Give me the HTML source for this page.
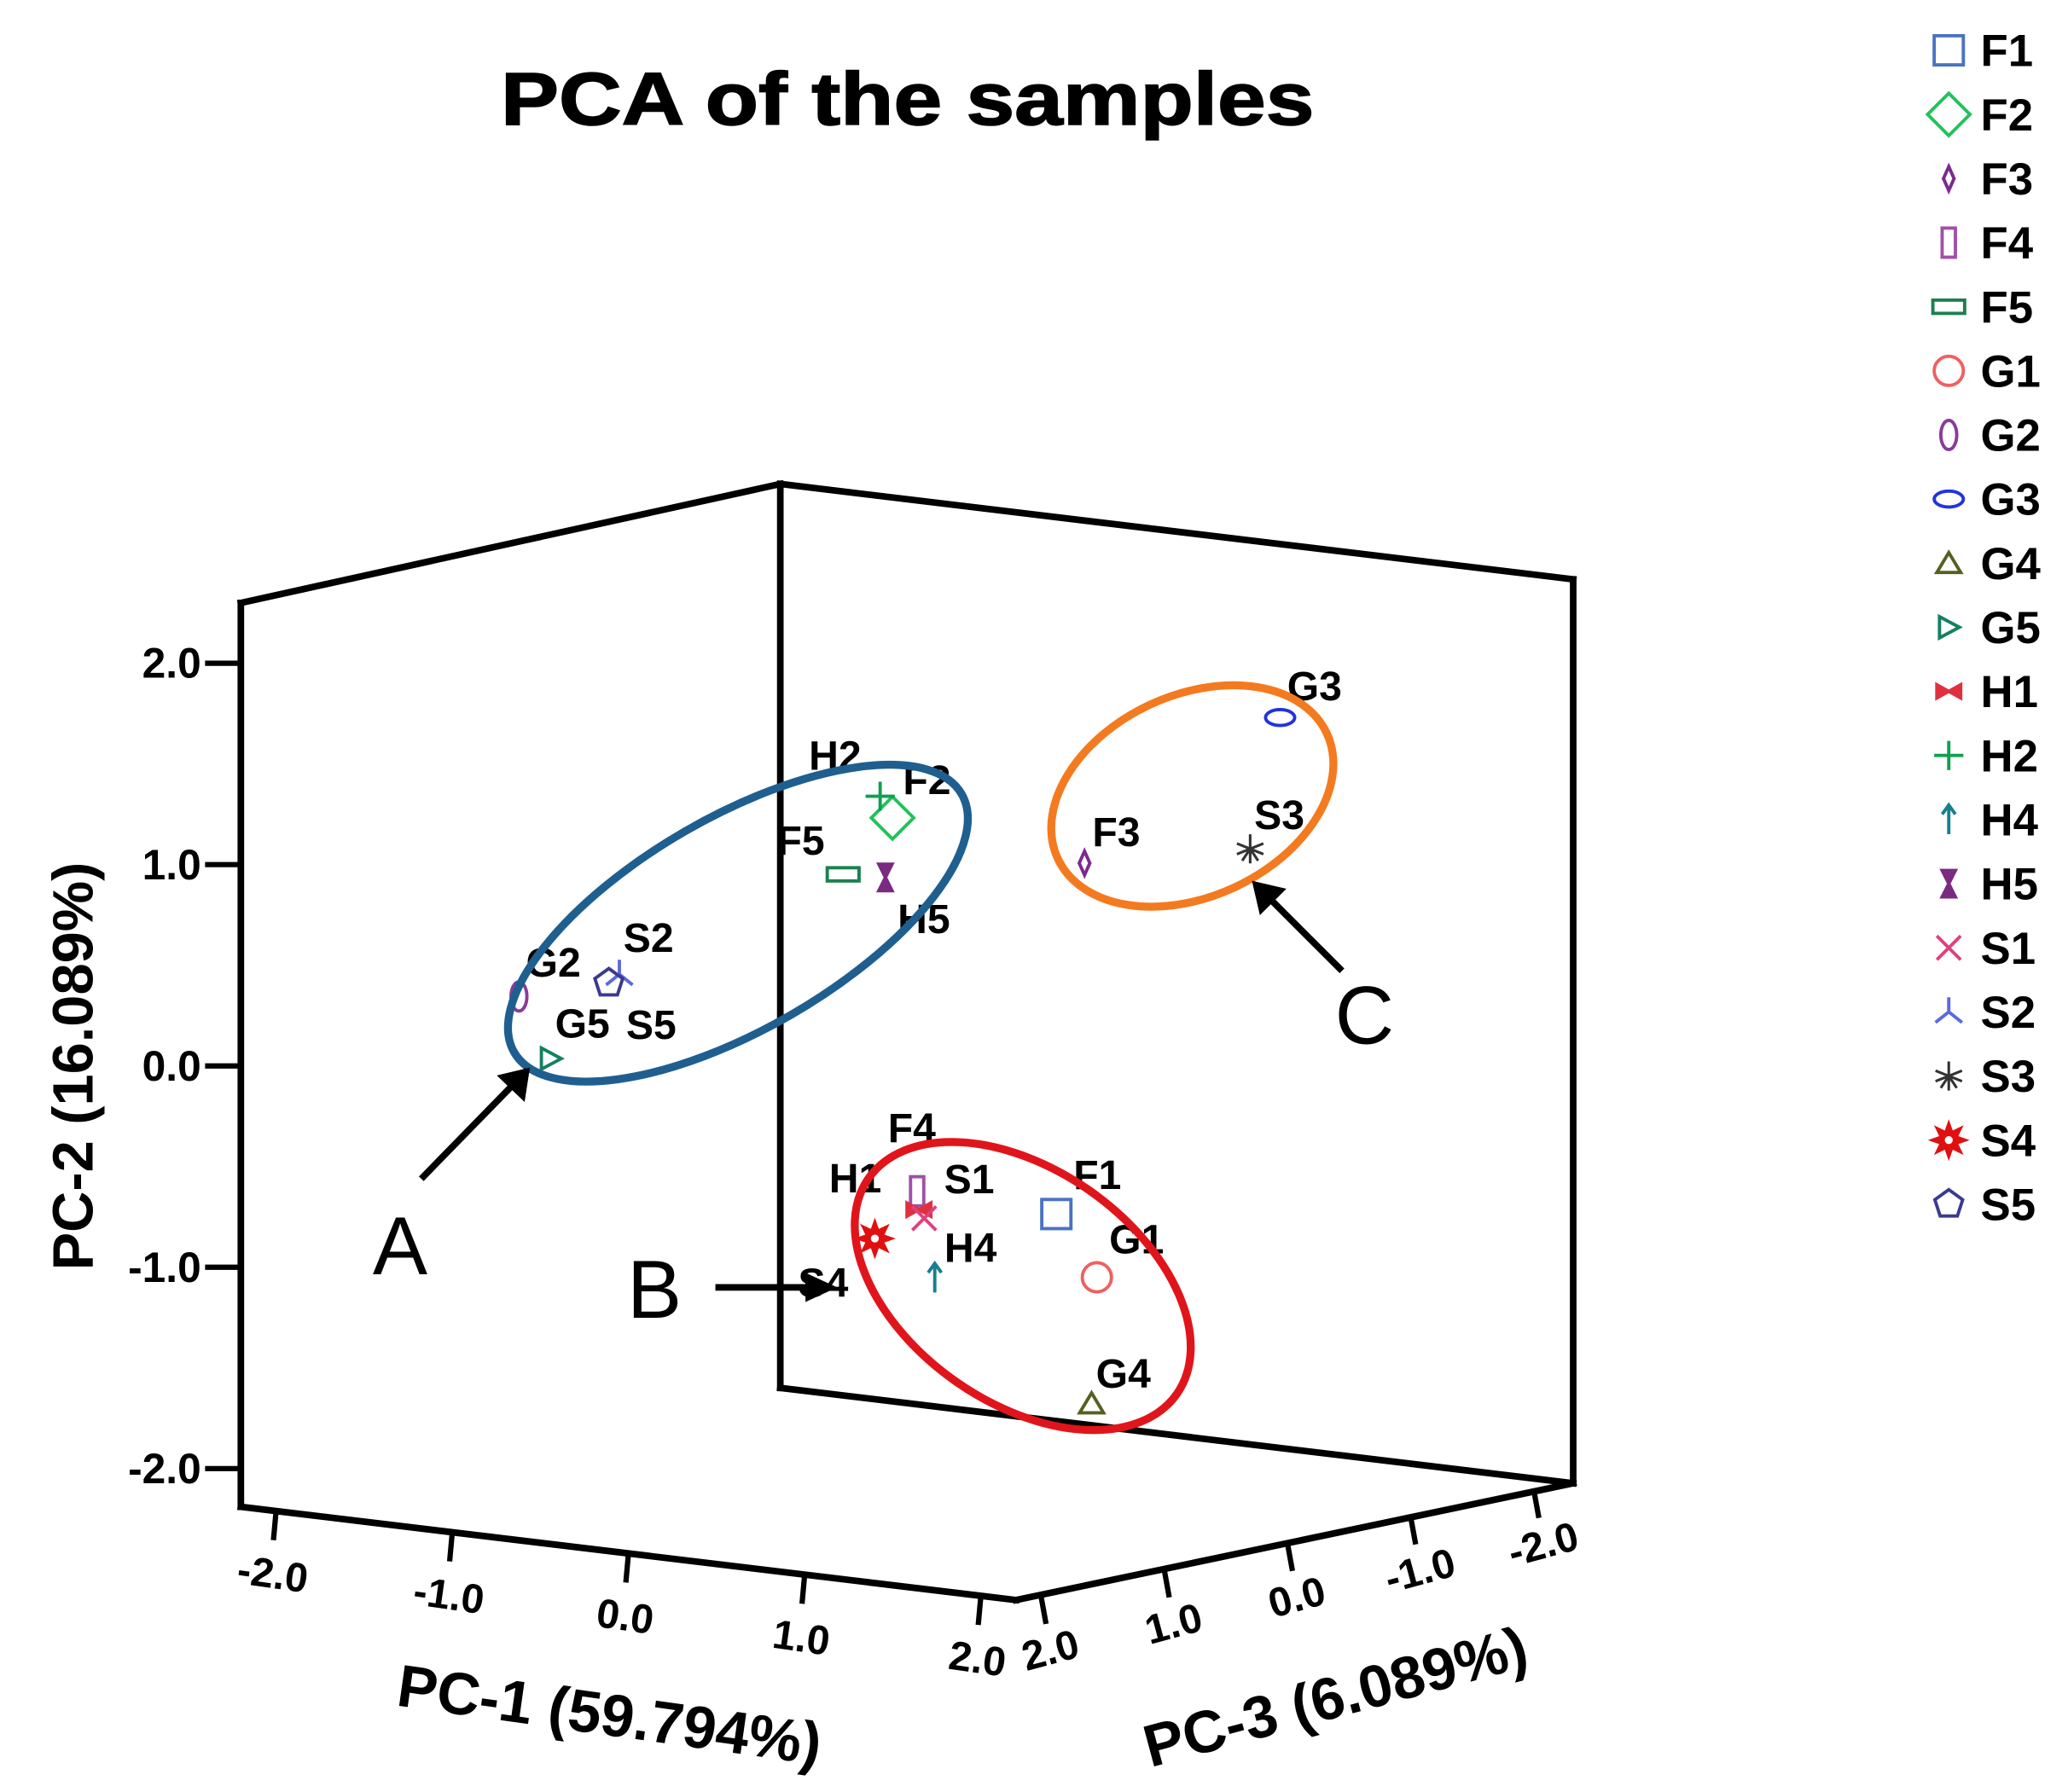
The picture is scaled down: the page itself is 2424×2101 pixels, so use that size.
<!DOCTYPE html>
<html><head><meta charset="utf-8"><style>
html,body{margin:0;padding:0;background:#fff}
svg{display:block}
text{font-family:"Liberation Sans",Arial,sans-serif}
</style></head><body>
<svg id="chart" xmlns="http://www.w3.org/2000/svg" width="2424" height="2101" viewBox="0 0 1561 1353" preserveAspectRatio="none">
<text x="378" y="94" textLength="614" lengthAdjust="spacingAndGlyphs" font-size="56" font-weight="bold" stroke="#000" stroke-width="1">PCA of the samples</text>
<g id="box"></g>
<g id="ticks"></g>
<text transform="translate(70,805) rotate(-90)" text-anchor="middle" font-size="43" font-weight="bold">PC-2 (16.089%)</text>
<text transform="translate(458,1310) rotate(8)" text-anchor="middle" font-size="45" font-weight="bold">PC-1 (59.794%)</text>
<text transform="translate(1012,1296) rotate(-15)" text-anchor="middle" font-size="45" font-weight="bold">PC-3 (6.089%)</text>
<g id="points"></g>
<ellipse cx="557" cy="697" rx="195" ry="80" transform="rotate(-30 557 697)" fill="none" stroke="#1f5f8f" stroke-width="6"/>
<ellipse cx="900" cy="601" rx="112" ry="76" transform="rotate(-25 900 601)" fill="none" stroke="#f47a20" stroke-width="6"/>
<ellipse cx="772" cy="971" rx="142" ry="88" transform="rotate(35 772 971)" fill="none" stroke="#e0151b" stroke-width="6"/>
<line x1="318" y1="890" x2="398" y2="808" stroke="#000" stroke-width="5"/>
<path d="M400,806 L396,832 L375,812 Z" fill="#000"/>
<line x1="540" y1="972" x2="628" y2="972" stroke="#000" stroke-width="5"/>
<path d="M632,972 L608,961 L608,983 Z" fill="#000"/>
<line x1="1013" y1="733" x2="948" y2="668" stroke="#000" stroke-width="5"/>
<path d="M945,665 L971,671 L951,691 Z" fill="#000"/>
<text x="302" y="962" text-anchor="middle" font-size="62">A</text>
<text x="494" y="995" text-anchor="middle" font-size="62">B</text>
<text x="1030" y="788" text-anchor="middle" font-size="62">C</text>
<g id="legend"></g>
</svg>
<script>
const names=["F1","F2","F3","F4","F5","G1","G2","G3","G4","G5","H1","H2","H4","H5","S1","S2","S3","S4","S5"];
const pc1=[0.89,-0.04,1.05,0.10,-0.32,1.12,-2.16,2.16,1.09,-1.98,0.11,-0.11,0.20,-0.08,0.14,-1.59,1.99,-0.14,-1.65];
const pc2=[-0.70,1.17,1.06,-0.67,0.86,-0.99,0.06,1.90,-1.62,-0.23,-0.76,1.27,-1.09,0.87,-0.80,0.23,1.23,-0.93,0.18];
const pc3=[0,0,0,0,0,0,0,0,0,0,0,0,0,0,0,0,0,0,0];
const yTicks=[2,1,0,-1,-2];
const xTicks=[-2,-1,0,1,2];
const zTicks=[2,1,0,-1,-2];
const shapes=["square","diamond","sdiamond","tallrect","widerect","circle","tallell","wideell","triangle","triright","bowtie","plus","arrow","hourglass","cross","tri3","star","burst","pentagon"];
const colors=["#4a72c4","#22c25a","#7b2a8c","#a050a8","#1a8050","#f06060","#8a3a9a","#2233dd","#556020","#148060","#e03040","#10a050","#168090","#7a2a80","#e04080","#5a6ae0","#333333","#e01010","#3a3a90"];
const labelDx=[31,26,24,-4,-32,30,26,26,24,24,-48,-34,27,29,34,22,22,-39,32];
const labelDy=[-30,-29,-24,-48,-26,-29,-26,-24,-23,-27,-24,-31,-23,31,-30,-28,-26,33,31];
const NS="http://www.w3.org/2000/svg";
const B=2.2,FL=-2.19,TP=2.3,BX=2.25;
function proj(p1,p2,p3){return [679+p1*133-p3*93, 796-p2*152+p1*16+p3*20];}
function el(tag,attrs,parent){const e=document.createElementNS(NS,tag);for(const k in attrs)e.setAttribute(k,attrs[k]);parent.appendChild(e);return e;}
const box=document.getElementById('box');
const edges=[[[-B,FL,B],[-B,TP,B]],[[-B,TP,B],[-BX,TP,-BX]],[[-BX,FL,-BX],[-BX,TP,-BX]],[[-BX,TP,-BX],[BX,TP,-BX]],[[BX,TP,-BX],[BX,FL,-BX]],[[-B,FL,B],[B,FL,B]],[[B,FL,B],[BX,FL,-BX]],[[-BX,FL,-BX],[BX,FL,-BX]]];
edges.forEach((e,i)=>{const a=proj(...e[0]),b=proj(...e[1]);
const l=el('line',{x1:a[0],y1:a[1],x2:b[0],y2:b[1],stroke:'#000','stroke-width':5,'stroke-linecap':'square'},box);

});
const tk=document.getElementById('ticks');
yTicks.forEach(v=>{const p=proj(-B,v,B);
const l=el('line',{x1:p[0]-27,y1:p[1],x2:p[0],y2:p[1],stroke:'#000','stroke-width':4},tk);


const t=el('text',{x:p[0]-30,y:p[1]+11,'text-anchor':'end','font-size':32,'font-weight':'bold'},tk);t.textContent=v.toFixed(1);

});
xTicks.forEach(v=>{const p=proj(v,FL,B);
const l=el('line',{x1:p[0],y1:p[1],x2:p[0]-2,y2:p[1]+22,stroke:'#000','stroke-width':4},tk);


const t=el('text',{x:0,y:0,'text-anchor':'middle','font-size':31,'font-weight':'bold',transform:`translate(${p[0]-4},${p[1]+58}) rotate(8)`},tk);t.textContent=v.toFixed(1);

});
zTicks.forEach(v=>{const p=proj(B,FL,v);
const l=el('line',{x1:p[0],y1:p[1],x2:p[0]+4,y2:p[1]+22,stroke:'#000','stroke-width':4},tk);


const t=el('text',{x:0,y:0,'text-anchor':'middle','font-size':31,'font-weight':'bold',transform:`translate(${p[0]+10},${p[1]+52}) rotate(-15)`},tk);t.textContent=v.toFixed(1);

});
function marker(shape,x,y,c,s,parent){
const g=el('g',{transform:`translate(${x},${y}) scale(${s})`,fill:'none',stroke:c,'stroke-width':2.5},parent);
const P=(d)=>el('path',{d},g);
switch(shape){
case 'square':el('rect',{x:-11,y:-11,width:22,height:22},g);break;
case 'diamond':P('M0,-16L16,0L0,16L-16,0Z');break;
case 'sdiamond':P('M0,-9L4,0L0,9L-4,0Z');break;
case 'tallrect':el('rect',{x:-5,y:-11,width:10,height:22},g);break;
case 'widerect':el('rect',{x:-12,y:-5,width:24,height:10},g);break;
case 'circle':el('circle',{r:11},g);break;
case 'tallell':el('ellipse',{rx:6,ry:11},g);break;
case 'wideell':el('ellipse',{rx:11,ry:6},g);break;
case 'triangle':P('M0,-8L9,7L-9,7Z');break;
case 'triright':P('M-7,-8L8,0L-7,8Z');break;
case 'bowtie':P('M-9,-5L-9,5L9,-5L9,5Z');g.setAttribute('fill',c);break;
case 'plus':P('M-11,0H11M0,-11V11');break;
case 'arrow':P('M0,11V-10M-5,-4L0,-11L5,-4');break;
case 'hourglass':P('M-5,-10H5L-5,10H5Z');g.setAttribute('fill',c);break;
case 'cross':P('M-9,-9L9,9M9,-9L-9,9');break;
case 'tri3':P('M0,0V-11M0,0L-10,8M0,0L10,8');break;
case 'star':P('M0,-11V11M-10,-4L10,4M10,-4L-10,4M-6,9L0,0L6,9');g.setAttribute('stroke-width',2);break;
case 'burst':{let d='';for(let i=0;i<16;i++){const r=i%2?6:12,a=i*Math.PI/8;d+=(i?'L':'M')+(r*Math.sin(a)).toFixed(1)+','+(-r*Math.cos(a)).toFixed(1);}P(d+'Z');g.setAttribute('fill',c);el('circle',{r:3,fill:'#fff',stroke:'none'},g);break;}
case 'pentagon':{let d='';for(let i=0;i<5;i++){const a=i*2*Math.PI/5;d+=(i?'L':'M')+(11*Math.sin(a)).toFixed(1)+','+(-11*Math.cos(a)).toFixed(1);}P(d+'Z');break;}
}
return g;}
const pts=document.getElementById('points');
names.forEach((n,i)=>{const p=proj(pc1[i],pc2[i],pc3[i]);
const m=marker(shapes[i],p[0],p[1],colors[i],1,pts);


const t=el('text',{x:p[0]+labelDx[i],y:p[1]+labelDy[i]+11,'text-anchor':'middle','font-size':31,'font-weight':'bold'},pts);t.textContent=n;

});
const lg=document.getElementById('legend');
names.forEach((n,i)=>{const y=38+i*48.4;
const m=marker(shapes[i],1471,y,colors[i],1,lg);


const t=el('text',{x:1495,y:y+12,'font-size':34,'font-weight':'bold'},lg);t.textContent=n;

});
</script>
</body></html>
